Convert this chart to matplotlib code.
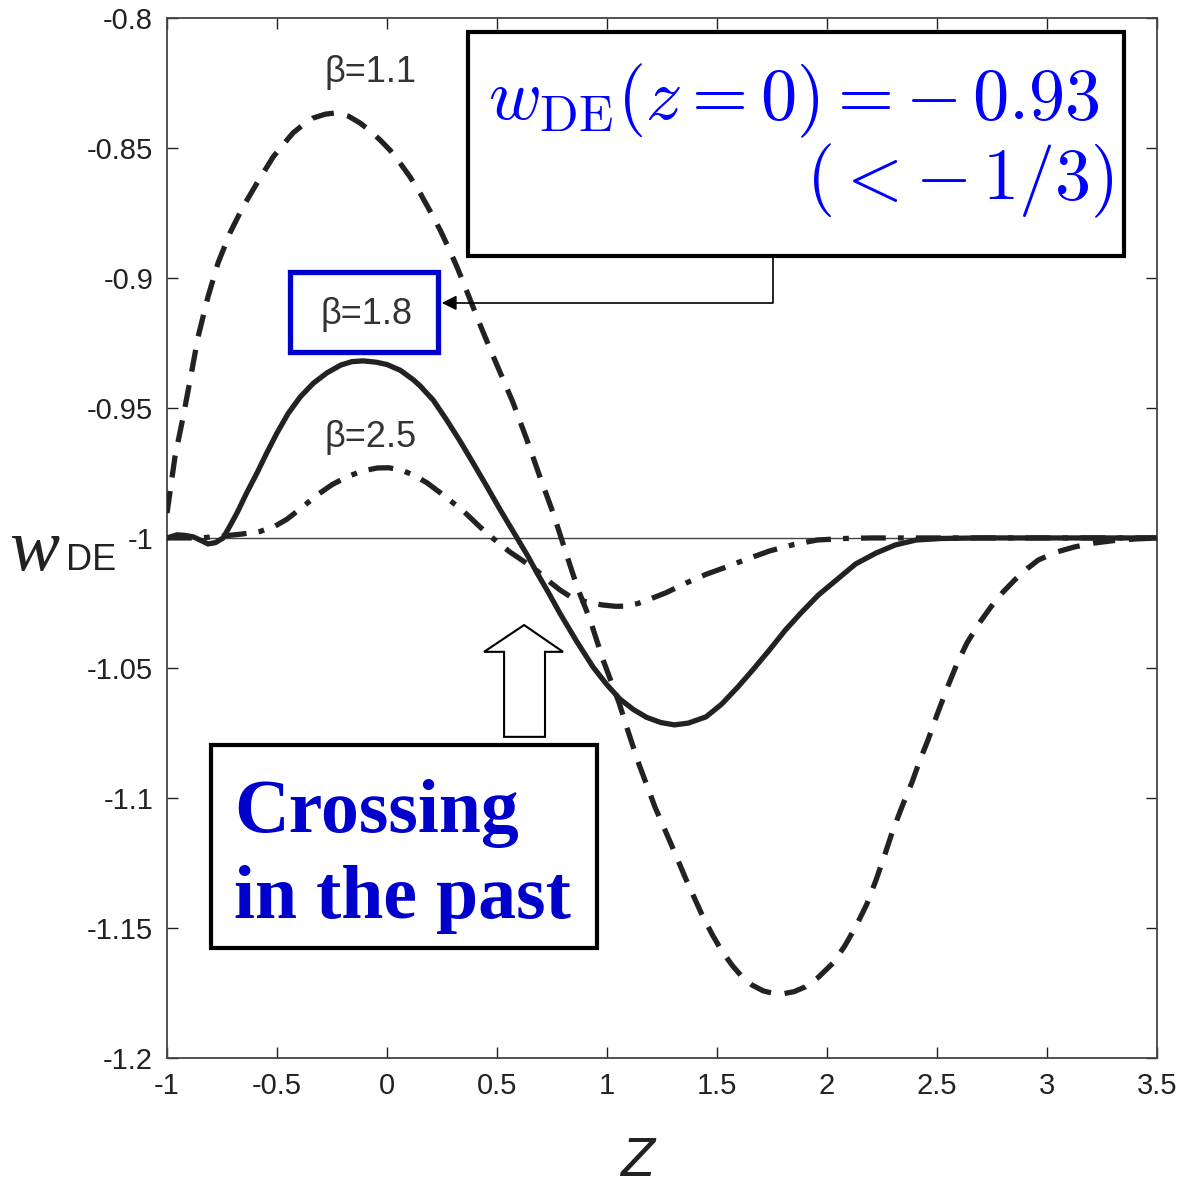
import matplotlib
matplotlib.use("Agg")
import matplotlib.pyplot as plt
from matplotlib.patches import Rectangle, Polygon

plt.rcParams["mathtext.fontset"] = "cm"

# ── data ─────────────────────────────────────────────────────────────────
# beta = 1.1 (dashed)
z_11 = [-1.0, -0.964, -0.927, -0.895, -0.859, -0.814, -0.768, -0.714, -0.655,
        -0.591, -0.518, -0.47, -0.427, -0.38, -0.336, -0.28, -0.227, -0.175,
        -0.123, -0.08, -0.032, 0.015, 0.059, 0.105, 0.15, 0.195, 0.241, 0.28,
        0.318, 0.355, 0.391, 0.435, 0.482, 0.53, 0.573, 0.636, 0.695, 0.755,
        0.809, 0.864, 0.923, 0.982, 1.055, 1.10, 1.145, 1.218, 1.29, 1.36,
        1.432, 1.48, 1.523, 1.57, 1.614, 1.66, 1.71, 1.757, 1.80, 1.85, 1.9,
        1.96, 2.027, 2.08, 2.13, 2.18, 2.223, 2.26, 2.295, 2.34, 2.386, 2.42,
        2.459, 2.50, 2.548, 2.59, 2.636, 2.69, 2.745, 2.80, 2.855, 2.91, 2.96,
        3.04, 3.123, 3.21, 3.305, 3.4, 3.5]
w_11 = [-0.9904, -0.9688, -0.9535, -0.9392, -0.9227, -0.9073, -0.8942, -0.8827,
        -0.8727, -0.8635, -0.8535, -0.8485, -0.8442, -0.8410, -0.8385, -0.8370,
        -0.8365, -0.8378, -0.8404, -0.8432, -0.8469, -0.8510, -0.8558, -0.8612,
        -0.8673, -0.8742, -0.8815, -0.8885, -0.8958, -0.9035, -0.9112, -0.9205,
        -0.9300, -0.9395, -0.9480, -0.9623, -0.9765, -0.9904, -1.0046, -1.0188,
        -1.0315, -1.0469, -1.0635, -1.0755, -1.0870, -1.1035, -1.1175, -1.1315,
        -1.1450, -1.1528, -1.1590, -1.1645, -1.1688, -1.1720, -1.1742, -1.1752,
        -1.1753, -1.1745, -1.1727, -1.1690, -1.1635, -1.1570, -1.1496, -1.1410,
        -1.1315, -1.1225, -1.1135, -1.1035, -1.0940, -1.0860, -1.0777, -1.0680,
        -1.0573, -1.0485, -1.0404, -1.0330, -1.0265, -1.0208, -1.0160, -1.0118,
        -1.0085, -1.0055, -1.0035, -1.0020, -1.0010, -1.0004, -1.0]

# beta = 1.8 (solid)
z_18 = [-1.0, -0.955, -0.92, -0.88, -0.845, -0.814, -0.78, -0.745, -0.715,
        -0.682, -0.64, -0.591, -0.545, -0.50, -0.45, -0.395, -0.335, -0.273,
        -0.21, -0.16, -0.109, -0.05, 0.0, 0.06, 0.12, 0.15, 0.21, 0.27, 0.33,
        0.39, 0.455, 0.52, 0.591, 0.64, 0.682, 0.735, 0.786, 0.86, 0.936, 1.0,
        1.059, 1.12, 1.18, 1.245, 1.307, 1.37, 1.45, 1.52, 1.595, 1.665, 1.739,
        1.81, 1.882, 1.96, 2.045, 2.13, 2.223, 2.31, 2.405, 2.52, 2.7, 3.5]
w_18 = [-1.0, -0.9988, -0.9990, -0.9996, -1.0010, -1.0023, -1.0018, -1.0,
        -0.9955, -0.9904, -0.9830, -0.9750, -0.9670, -0.9596, -0.9522, -0.9458,
        -0.9405, -0.9365, -0.9335, -0.9322, -0.9319, -0.9324, -0.9333, -0.9355,
        -0.9392, -0.9415, -0.9470, -0.9545, -0.9625, -0.9710, -0.9804, -0.9900,
        -1.0, -1.0070, -1.0135, -1.0212, -1.0290, -1.0395, -1.0496, -1.0565,
        -1.0620, -1.0660, -1.0690, -1.0710, -1.0719, -1.0712, -1.0688, -1.0640,
        -1.0573, -1.0505, -1.0430, -1.0355, -1.0288, -1.0220, -1.0160, -1.0100,
        -1.0058, -1.0027, -1.0008, -1.0002, -1.0, -1.0]

# beta = 2.5 (dash-dot)
z_25 = [-1.0, -0.85, -0.75, -0.66, -0.577, -0.51, -0.455, -0.39, -0.318,
        -0.25, -0.182, -0.115, -0.045, 0.006, 0.059, 0.12, 0.182, 0.24, 0.30,
        0.345, 0.423, 0.514, 0.56, 0.618, 0.68, 0.741, 0.786, 0.832, 0.88,
        0.936, 0.982, 1.04, 1.09, 1.14, 1.18, 1.27, 1.36, 1.45, 1.541, 1.64,
        1.739, 1.85, 1.955, 2.08, 2.2, 3.5]
w_25 = [-1.0, -1.0, -0.9993, -0.9985, -0.9975, -0.9955, -0.9928, -0.9885,
        -0.9835, -0.9795, -0.9765, -0.9743, -0.9731, -0.9730, -0.9737, -0.9758,
        -0.9788, -0.9825, -0.9865, -0.9895, -0.9958, -1.0025, -1.0055, -1.0088,
        -1.0125, -1.0170, -1.0200, -1.0225, -1.0240, -1.0252, -1.0258, -1.0263,
        -1.0262, -1.0252, -1.0240, -1.0210, -1.0173, -1.0140, -1.0112, -1.0080,
        -1.0050, -1.0025, -1.0008, -1.0002, -1.0, -1.0]

xticks = [-1, -0.5, 0, 0.5, 1, 1.5, 2, 2.5, 3, 3.5]
xlabels = ["-1", "-0.5", "0", "0.5", "1", "1.5", "2", "2.5", "3", "3.5"]
yticks = [-0.8, -0.85, -0.9, -0.95, -1, -1.05, -1.1, -1.15, -1.2]
ylabels = ["-0.8", "-0.85", "-0.9", "-0.95", "-1", "-1.05", "-1.1", "-1.15", "-1.2"]

INK = "#222222"
BLUE = "#0000cc"

fig = plt.figure(figsize=(11.78, 11.87), dpi=100)
ax = fig.add_axes([0.1418, 0.1087, 0.8404, 0.8762])

ax.axhline(-1, color="#444444", lw=1.0, zorder=1)
ax.plot(z_11, w_11, color=INK, lw=3.8, dashes=(4.2, 2.6), zorder=3)
ax.plot(z_18, w_18, color=INK, lw=3.8, solid_joinstyle="round", zorder=3)
ax.plot(z_25, w_25, color=INK, lw=3.8, dashes=(4.7, 2.3, 1.1, 2.3), zorder=3)

ax.set_xlim(-1, 3.5)
ax.set_ylim(-1.2, -0.8)
ax.set_xticks(xticks)
ax.set_xticklabels(xlabels)
ax.set_yticks(yticks)
ax.set_yticklabels(ylabels)
ax.tick_params(direction="in", length=8, width=1.0, top=True, right=True,
               labelsize=21, colors=INK, pad=10)
for lab in ax.get_xticklabels() + ax.get_yticklabels():
    lab.set_family("Liberation Sans")
for sp in ax.spines.values():
    sp.set_color("#444444")
    sp.set_linewidth(1.3)

# beta labels
lab_kw = dict(fontsize=26, color="#333333", family="Liberation Sans",
              ha="center", va="center", zorder=5)
ax.text(-0.077, -0.8208, "β=1.1", **lab_kw)
ax.text(-0.095, -0.9142, "β=1.8", **lab_kw)
ax.text(-0.077, -0.9612, "β=2.5", **lab_kw)

# blue box around beta=1.8
ax.add_patch(Rectangle((-0.441, -0.9285), 0.673, 0.0308, fill=False,
                       ec=BLUE, lw=3.8, zorder=6))

# big formula box
ax.add_patch(Rectangle((0.368, -0.8915), 2.982, 0.0861, fc="white",
                       ec="black", lw=3.0, zorder=6))
ax.text(3.24, -0.8318, r"$w_{\rm DE}(z=0)=-\,0.93$", color="#0000ff",
        fontsize=52, ha="right", va="center", zorder=7)
ax.text(3.30, -0.8628, r"$(<-\,1/3)$", color="#0000ff",
        fontsize=52, ha="right", va="center", zorder=7)

# elbow connector from formula box to the beta=1.8 box
ax.plot([1.755, 1.755, 0.30], [-0.8915, -0.9096, -0.9096],
        color="black", lw=1.2, zorder=6)
ax.annotate("", xy=(0.236, -0.9096), xytext=(0.32, -0.9096),
            arrowprops=dict(arrowstyle="-|>", color="black", lw=1.2,
                            mutation_scale=22), zorder=7)

# hollow up arrow
ax.add_patch(Polygon([(0.532, -1.0765), (0.532, -1.0438), (0.441, -1.0438),
                      (0.623, -1.0335), (0.80, -1.0438), (0.718, -1.0438),
                      (0.718, -1.0765)], closed=True, fc="white",
                     ec="black", lw=1.5, zorder=6))

# "Crossing in the past" box
ax.add_patch(Rectangle((-0.80, -1.1577), 1.755, 0.0781, fc="white",
                       ec="black", lw=3.0, zorder=6))
txt_kw = dict(color=BLUE, fontsize=54.5, family="Liberation Serif",
              weight="bold", ha="left", va="baseline", zorder=7)
ax.text(-0.695, -1.1131, "Crossing", **txt_kw)
ax.text(-0.695, -1.1462, "in the past", **txt_kw)

# axis labels
fig.text(0.008, 0.5195, "w", fontsize=54, family="Liberation Serif",
         style="italic", color=INK, ha="left", va="baseline")
fig.text(0.056, 0.5195, "DE", fontsize=26, family="Liberation Sans",
         color=INK, ha="left", va="baseline")
fig.text(0.541, 0.0212, "Z", fontsize=40, family="Liberation Sans",
         style="italic", color=INK, ha="center", va="center")

plt.savefig("out.png", dpi=100, facecolor="white")
